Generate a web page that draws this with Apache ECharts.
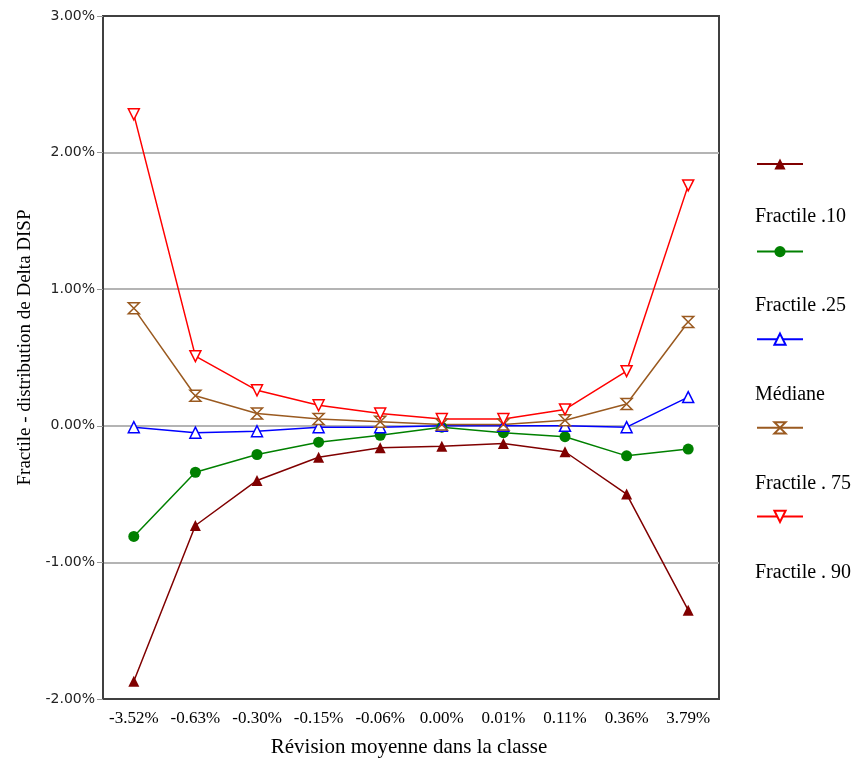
<!DOCTYPE html>
<html>
<head>
<meta charset="utf-8">
<script src="https://cdn.jsdelivr.net/npm/echarts@6/dist/echarts.min.js"></script>
<style>
  html, body {margin: 0; padding: 0; background: #fff;}
  #chart {width: 862px; height: 761px;}
</style>
</head>
<body>
<div id="chart"></div>
<script>
// classes of mean revision
const categories = ['-3.52%', '-0.63%', '-0.30%', '-0.15%', '-0.06%', '0.00%', '0.01%', '0.11%', '0.36%', '3.79%'];

// values in %
const fractile10 = [-1.87, -0.73, -0.40, -0.23, -0.16, -0.15, -0.13, -0.19, -0.50, -1.35];
const fractile25 = [-0.81, -0.34, -0.21, -0.12, -0.07, -0.01, -0.05, -0.08, -0.22, -0.17];
const mediane = [-0.01, -0.05, -0.04, -0.01, -0.01, 0.00, 0.00, 0.00, -0.01, 0.21];
const fractile75 = [0.86, 0.22, 0.09, 0.05, 0.03, 0.01, 0.01, 0.04, 0.16, 0.76];
const fractile90 = [2.28, 0.51, 0.26, 0.15, 0.09, 0.05, 0.05, 0.12, 0.40, 1.76];

const names = ['Fractile .10', 'Fractile .25', 'Médiane', 'Fractile . 75', 'Fractile . 90'];

const hourglass = 'path://M0,0 L10,0 L0,10 L10,10 Z';
const downTri = 'path://M0,0 L10,0 L5,9 Z';

const myChart = echarts.init(document.getElementById('chart'));

function mkSeries(name, data, color, symbol, hollow) {
  return {
    name: name,
    type: 'line',
    data: data,
    symbol: symbol,
    symbolSize: 11,
    lineStyle: {color: color, width: 1.5},
    itemStyle: hollow ? {color: '#fff', borderColor: color, borderWidth: 1.5} : {color: color},
    emphasis: {disabled: true},
    animation: false
  };
}

const option = {
  backgroundColor: '#fff',
  grid: {
    left: 103,
    right: 143,
    top: 16,
    bottom: 62,
    outerBoundsMode: 'none',
    show: true,
    borderColor: '#404040',
    borderWidth: 2
  },
  legend: [{
    orient: 'vertical',
    left: 751,
    top: 152,
    itemWidth: 46,
    itemHeight: 14,
    itemGap: 75,
    data: names,
    formatter: function () { return ''; },
    selectedMode: false
  }, {
    orient: 'vertical',
    left: 745,
    top: 200,
    itemWidth: 0,
    itemHeight: 0,
    itemGap: 66,
    data: names.map(n => ({name: n, icon: 'none'})),
    textStyle: {fontFamily: 'Liberation Serif', fontSize: 20, color: '#000', lineHeight: 23},
    selectedMode: false
  }],
  xAxis: {
    type: 'category',
    data: categories,
    boundaryGap: true,
    name: 'Révision moyenne dans la classe',
    nameLocation: 'middle',
    nameGap: 38,
    nameTextStyle: {fontFamily: 'Liberation Serif', fontSize: 21, color: '#000', padding: [0, 4, 0, 0]},
    axisLine: {onZero: false, lineStyle: {color: '#404040', width: 2}},
    axisTick: {show: false},
    axisLabel: {fontFamily: 'Liberation Serif', fontSize: 17, color: '#000', margin: 11, interval: 0}
  },
  yAxis: {
    type: 'value',
    min: -2,
    max: 3,
    interval: 1,
    name: 'Fractile - distribution de Delta DISP',
    nameLocation: 'middle',
    nameGap: 66,
    nameTextStyle: {fontFamily: 'Liberation Serif', fontSize: 19, color: '#000', padding: [0, 0, 0, 20]},
    axisLine: {show: true, lineStyle: {color: '#404040', width: 2}},
    axisTick: {show: true, length: 6, lineStyle: {color: '#999'}},
    axisLabel: {
      fontFamily: 'DejaVu Sans',
      fontSize: 14,
      color: '#222',
      margin: 8,
      formatter: v => v.toFixed(2) + '%'
    },
    splitLine: {show: true, showMinLine: false, showMaxLine: false, lineStyle: {color: '#b4b4b4', width: 2}}
  },
  series: [
    mkSeries(names[0], fractile10, '#800000', 'triangle', false),
    mkSeries(names[1], fractile25, '#008000', 'circle', false),
    mkSeries(names[2], mediane, '#0000ff', 'triangle', true),
    mkSeries(names[3], fractile75, '#9a5a20', hourglass, true),
    mkSeries(names[4], fractile90, '#ff0000', downTri, true)
  ]
};

myChart.setOption(option);
</script>
</body>
</html>
